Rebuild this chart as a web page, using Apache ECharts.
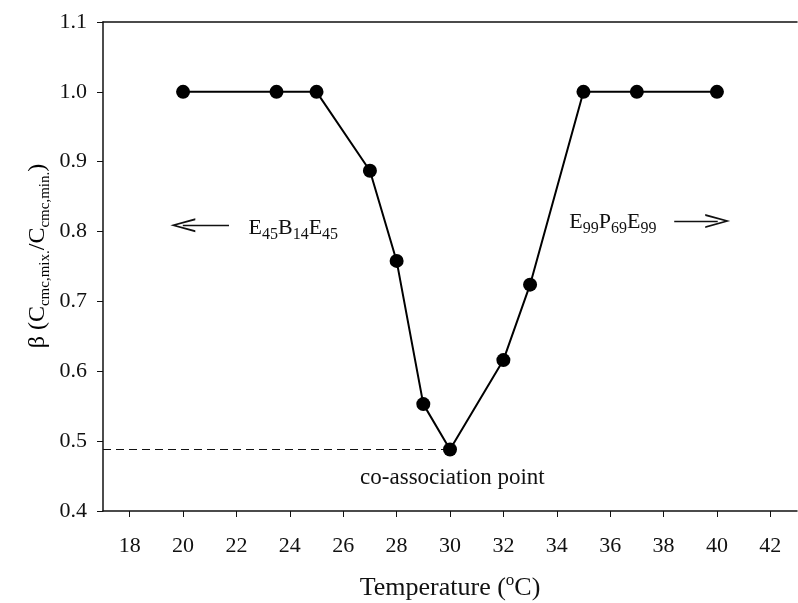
<!DOCTYPE html>
<html>
<head>
<meta charset="utf-8">
<script src="https://cdn.jsdelivr.net/npm/echarts@6/dist/echarts.min.js"></script>
<style>
  html, body { margin: 0; padding: 0; background: #fff; }
  #chart { width: 798px; height: 603px; }
</style>
</head>
<body>
<div id="chart"></div>
<script>
// data
var temps = [20, 23.5, 25, 27, 28, 29, 30, 32, 33, 35, 37, 40];
var beta = [1.0, 1.0, 1.0, 0.887, 0.758, 0.553, 0.488, 0.616, 0.724, 1.0, 1.0, 1.0];
var xTicks = [18, 20, 22, 24, 26, 28, 30, 32, 34, 36, 38, 40, 42];
var yTicks = [0.4, 0.5, 0.6, 0.7, 0.8, 0.9, 1.0, 1.1];
var coPoint = [30, 0.488];

var FONT = 'Liberation Serif';
var ink = '#111';

var points = temps.map(function (t, i) { return [t, beta[i]]; });

// open arrow head, tip on top
var arrowHead = 'path://M0,25 L10,0 L20,25 L17.2,25 L10,6 L2.8,25 Z';

function richSet(main, sub) {
  return {
    b: { fontFamily: FONT, fontSize: main, color: ink, lineHeight: main + 6 },
    s: { fontFamily: FONT, fontSize: sub, color: ink, verticalAlign: 'bottom', lineHeight: sub },
    p: { fontFamily: FONT, fontSize: sub, color: ink, verticalAlign: 'top', lineHeight: sub },
    c: { fontFamily: FONT, fontSize: 23, color: ink }
  };
}

var chart = echarts.init(document.getElementById('chart'));

chart.setOption({
  backgroundColor: '#fff',
  animation: false,
  grid: { left: 103, right: 1, top: 22, bottom: 92, outerBoundsMode: 'none' },
  graphic: [{
    type: 'text',
    x: 38,
    y: 256,
    rotation: Math.PI / 2,
    style: {
      text: '{b|β (C}{s|cmc,mix.}{b|/C}{s|cmc,min.}{b|)}',
      rich: richSet(24, 15),
      align: 'center',
      verticalAlign: 'middle'
    }
  }],
  xAxis: [{
    type: 'value',
    min: 17,
    max: 43,
    name: '{b|Temperature (}{p|o}{b|C)}',
    nameLocation: 'middle',
    nameGap: 61,
    nameTextStyle: { rich: richSet(26, 17) },
    axisLine: { lineStyle: { color: ink, width: 1.5 } },
    axisTick: { show: true, length: 6, lineStyle: { color: ink }, customValues: xTicks },
    axisLabel: {
      customValues: xTicks,
      margin: 24,
      fontFamily: FONT, fontSize: 22, color: ink
    },
    splitLine: { show: false }
  }, {
    type: 'value',
    position: 'top',
    min: 17,
    max: 43,
    axisLine: { show: true, lineStyle: { color: ink, width: 1.5 } },
    axisTick: { show: false },
    axisLabel: { show: false },
    splitLine: { show: false }
  }],
  yAxis: {
    type: 'value',
    min: yTicks[0],
    max: yTicks[yTicks.length - 1],
    interval: 0.1,
    axisLine: { show: true, lineStyle: { color: ink, width: 1.5 } },
    axisTick: { show: true, length: 6, lineStyle: { color: ink } },
    axisLabel: {
      margin: 16,
      fontFamily: FONT, fontSize: 22, color: ink,
      formatter: function (v) { return v.toFixed(1); }
    },
    splitLine: { show: false }
  },
  series: [{
    type: 'line',
    data: points,
    symbol: 'circle',
    symbolSize: 14,
    itemStyle: { color: '#000' },
    lineStyle: { color: '#000', width: 2 },
    z: 5,
    markLine: {
      silent: true,
      symbol: 'none',
      label: { show: false },
      data: [
        [
          { coord: [17, coPoint[1]], symbol: 'none', lineStyle: { type: [8, 5], width: 1, color: ink } },
          { coord: coPoint, symbol: 'none' }
        ],
        [
          { coord: [21.72, 0.809], symbol: 'none', lineStyle: { type: 'solid', width: 1.4, color: ink } },
          { coord: [19.99, 0.809], symbol: arrowHead, symbolSize: [14, 25] }
        ],
        [
          { coord: [38.4, 0.815], symbol: 'none', lineStyle: { type: 'solid', width: 1.4, color: ink } },
          { coord: [40.03, 0.815], symbol: arrowHead, symbolSize: [14, 25] }
        ]
      ]
    },
    markPoint: {
      silent: true,
      symbol: 'circle',
      symbolSize: 1,
      itemStyle: { color: 'rgba(0,0,0,0)' },
      label: { show: true, position: 'inside', color: ink, rich: richSet(22, 16) },
      data: [
        { coord: [24.13, 0.8045], label: { formatter: '{b|E}{s|45}{b|B}{s|14}{b|E}{s|45}' } },
        { coord: [36.1, 0.813], label: { formatter: '{b|E}{s|99}{b|P}{s|69}{b|E}{s|99}' } },
        { coord: [30.09, 0.4476], label: { formatter: '{c|co-association point}' } }
      ]
    }
  }]
});
</script>
</body>
</html>
